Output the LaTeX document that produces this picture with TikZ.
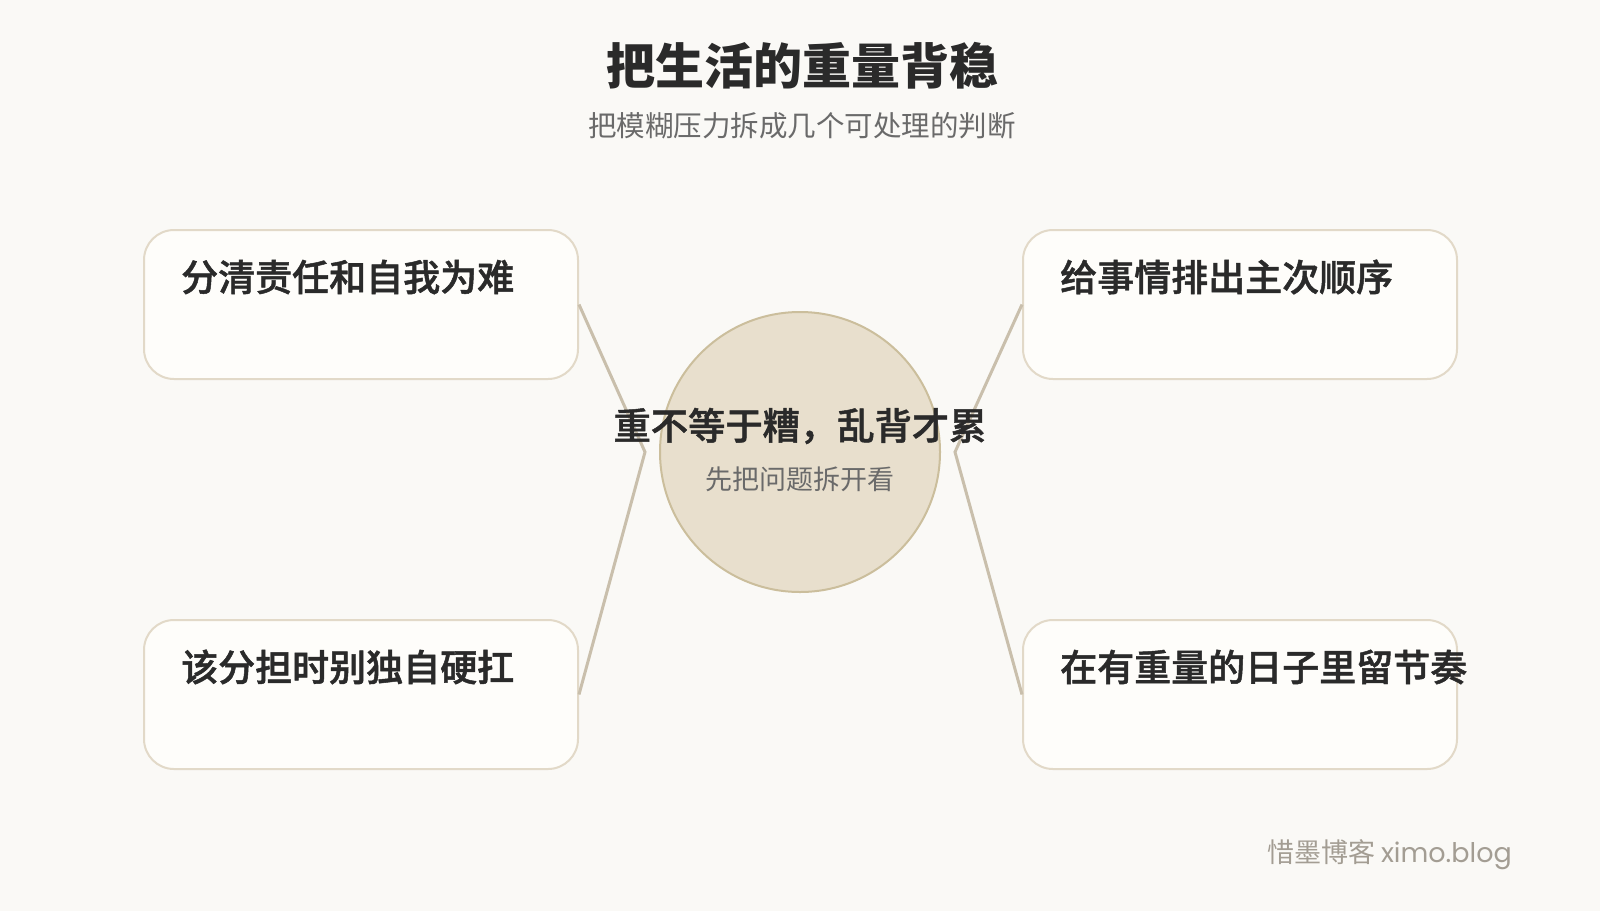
\documentclass[tikz,border=0pt]{standalone}
\usepackage{fontspec}
\setmainfont{Noto Sans CJK SC}
\newfontfamily\cjkm{Noto Sans CJK SC Medium}[FakeBold=1.3]
\newfontfamily\latinsans{Poppins}
\definecolor{bgc}{HTML}{FAF9F6}
\definecolor{boxfill}{HTML}{FEFDFA}
\definecolor{boxline}{HTML}{E2D9C8}
\definecolor{circfill}{HTML}{E8DFCD}
\definecolor{circline}{HTML}{CBBE9C}
\definecolor{linkc}{HTML}{C9BFAC}
\definecolor{darktxt}{HTML}{2A2A2A}
\definecolor{subtxt}{HTML}{6A6A6A}
\definecolor{marktxt}{HTML}{A39D93}
\tikzset{
  cardbox/.style={draw=boxline, line width=2pt, fill=boxfill, rounded corners=30pt},
  cardtext/.style={anchor=west, text=darktxt, font=\fontsize{37}{40}\selectfont\cjkm, inner sep=0pt},
  link/.style={draw=linkc, line width=3pt, line join=miter},
}
\begin{document}
\begin{tikzpicture}[x=1pt,y=-1pt]
\fill[bgc] (0,0) rectangle (1600,911);
\useasboundingbox (0,0) rectangle (1600,911);
% title
\node[text=darktxt, font=\fontsize{49}{52}\selectfont\bfseries] (title) at (802,66) {把生活的重量背稳};
\node[text=subtxt, font=\fontsize{28.5}{32}\selectfont] (subtitle) at (802,126) {把模糊压力拆成几个可处理的判断};
% boxes
\node[cardbox, minimum width=434pt, minimum height=149pt, anchor=north west] (lt) at (143,229) {};
\node[cardbox, minimum width=434pt, minimum height=149pt, anchor=north west] (lb) at (143,619) {};
\node[cardbox, minimum width=434pt, minimum height=149pt, anchor=north west] (rt) at (1022,229) {};
\node[cardbox, minimum width=434pt, minimum height=149pt, anchor=north west] (rb) at (1022,619) {};
% connectors
\coordinate (lv) at (645,452);
\coordinate (rv) at (955,452);
\draw[link] (lt.east) -- (lv) -- (lb.east);
\draw[link] (rt.west) -- (rv) -- (rb.west);
% circle
\node[circle, draw=circline, line width=2pt, fill=circfill, minimum size=280pt, inner sep=0pt] (hub) at (800,452) {};
% texts
\node[cardtext] (ltt) at (181,277) {分清责任和自我为难};
\node[cardtext] (lbt) at (181,667) {该分担时别独自硬扛};
\node[cardtext] (rtt) at (1060,277) {给事情排出主次顺序};
\node[cardtext] (rbt) at (1060,667) {在有重量的日子里留节奏};
\node[text=darktxt, font=\fontsize{37.3}{40}\selectfont\cjkm] (hubt) at (800,426) {重不等于糟，乱背才累};
\node[text=subtxt, font=\fontsize{27}{30}\selectfont] (hubs) at (800,479) {先把问题拆开看};
\node[text=marktxt, font=\fontsize{27}{30}\selectfont, anchor=east, inner sep=0pt] (mark) at (1512,855) {惜墨博客 {\latinsans ximo.blog}};
\end{tikzpicture}
\end{document}
